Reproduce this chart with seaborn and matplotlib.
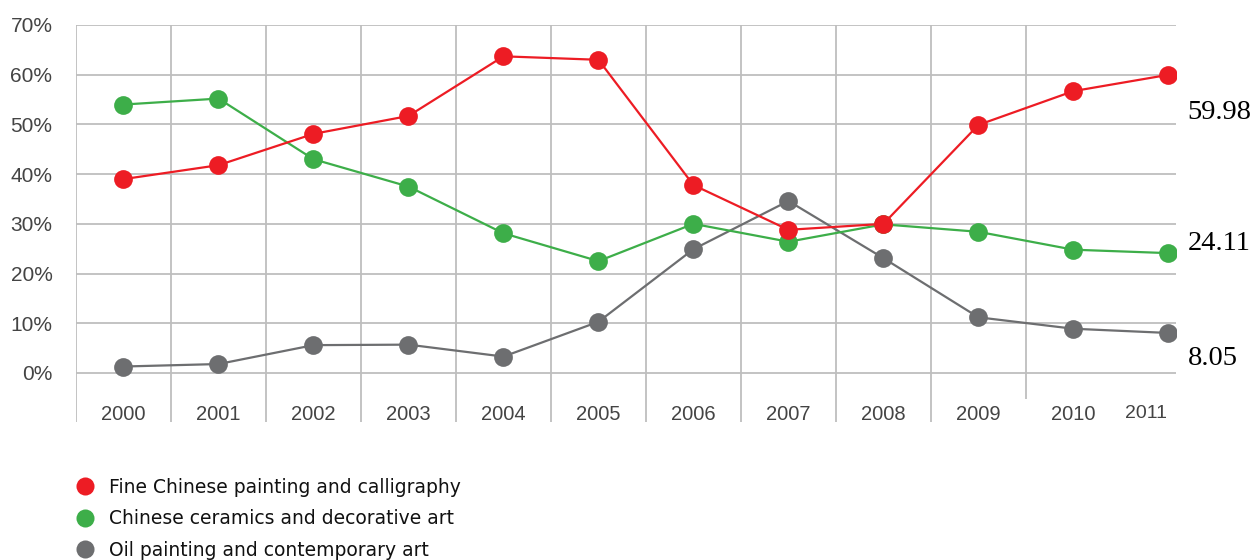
import matplotlib
matplotlib.use("Agg")
import matplotlib.pyplot as plt
from matplotlib.lines import Line2D
import numpy as np
import pandas as pd
import seaborn as sns

# Auction market share by category, in percent
years = ["2000", "2001", "2002", "2003", "2004", "2005",
         "2006", "2007", "2008", "2009", "2010", "2011"]
series_names = ["Fine Chinese painting and calligraphy",
                "Chinese ceramics and decorative art",
                "Oil painting and contemporary art"]
painting = [39.0, 41.8, 48.1, 51.7, 63.7, 63.0, 37.8, 28.8, 30.0, 49.9, 56.7, 59.98]
ceramics = [54.0, 55.2, 43.0, 37.5, 28.1, 22.5, 30.0, 26.4, 29.9, 28.4, 24.8, 24.11]
oil = [1.3, 1.8, 5.6, 5.7, 3.3, 10.3, 24.9, 34.6, 23.1, 11.2, 8.9, 8.05]
y_ticks = [0, 10, 20, 30, 40, 50, 60, 70]

colors = ["#ED1C24", "#3DAE49", "#6D6E70"]

sns.set_theme(style="white")
plt.rcParams["font.family"] = ["Liberation Sans", "DejaVu Sans"]

df = pd.DataFrame({
    "idx": list(range(len(years))) * 3,
    "share": painting + ceramics + oil,
    "series": sum([[n] * len(years) for n in series_names], []),
})

fig = plt.figure(figsize=(12.52, 5.6), dpi=100)
ax = fig.add_axes([76 / 1252, 138 / 560, 1100 / 1252, 397 / 560])

ymin = -9.86
ax.set_xlim(-0.5, 11.08)
ax.set_ylim(ymin, 70)

grid_c = "#BEBEBE"
# horizontal grid at each tick
for t in y_ticks:
    ax.axhline(t, color=grid_c, lw=1.3, zorder=0)
# vertical separators between years
for i in range(len(years) - 1):
    lo = ymin if i < len(years) - 2 else -5.2
    ax.vlines(i - 0.5, lo, 70, color=grid_c, lw=1.3, zorder=0)

# draw in reverse so the first series sits on top
order = series_names[::-1]
pal = dict(zip(series_names, colors))
for name in order:
    sub = df[df["series"] == name]
    sns.lineplot(data=sub, x="idx", y="share", color=pal[name], marker="o",
                 markersize=13.5, markeredgewidth=0, linewidth=1.6,
                 ax=ax, legend=False)

for s in ax.spines.values():
    s.set_visible(False)
ax.set_xticks([])
ax.set_yticks(y_ticks)
ax.set_yticklabels([f"{t}%" for t in y_ticks], fontsize=15, color="#444444")
ax.tick_params(axis="y", length=0, pad=17)
ax.set_xlabel("")
ax.set_ylabel("")

# year labels sit inside the plot, below the zero line
for i, yr in enumerate(years):
    if i == len(years) - 1:
        ax.text(i - 0.24, -8.1, yr, ha="center", va="center",
                fontsize=14, color="#444444")
    else:
        ax.text(i, -8.45, yr, ha="center", va="center",
                fontsize=14.5, color="#444444")

# final values written beside the last points
last_vals = [painting[-1], ceramics[-1], oil[-1]]
offsets = [(19, -38), (19, 10), (19, -26)]
for v, off in zip(last_vals, offsets):
    ax.annotate(f"{v:g}", xy=(len(years) - 1, v), xytext=off,
                textcoords="offset pixels", ha="left", va="center",
                fontsize=20.5, family="Liberation Serif", color="black",
                annotation_clip=False)

handles = [Line2D([], [], linestyle="none", marker="o", markersize=13,
                  markeredgewidth=0, color=c) for c in colors]
leg = fig.legend(handles, series_names, loc="upper left",
                 bbox_to_anchor=(76 / 1252, 1 - 478 / 560),
                 frameon=False, handlelength=0.95,
                 handletextpad=0.8, labelspacing=0.66, borderpad=0,
                 borderaxespad=0, prop={"family": "DejaVu Sans", "size": 13.5})
for t in leg.get_texts():
    t.set_color("#111111")

fig.savefig("out.png", dpi=100)
